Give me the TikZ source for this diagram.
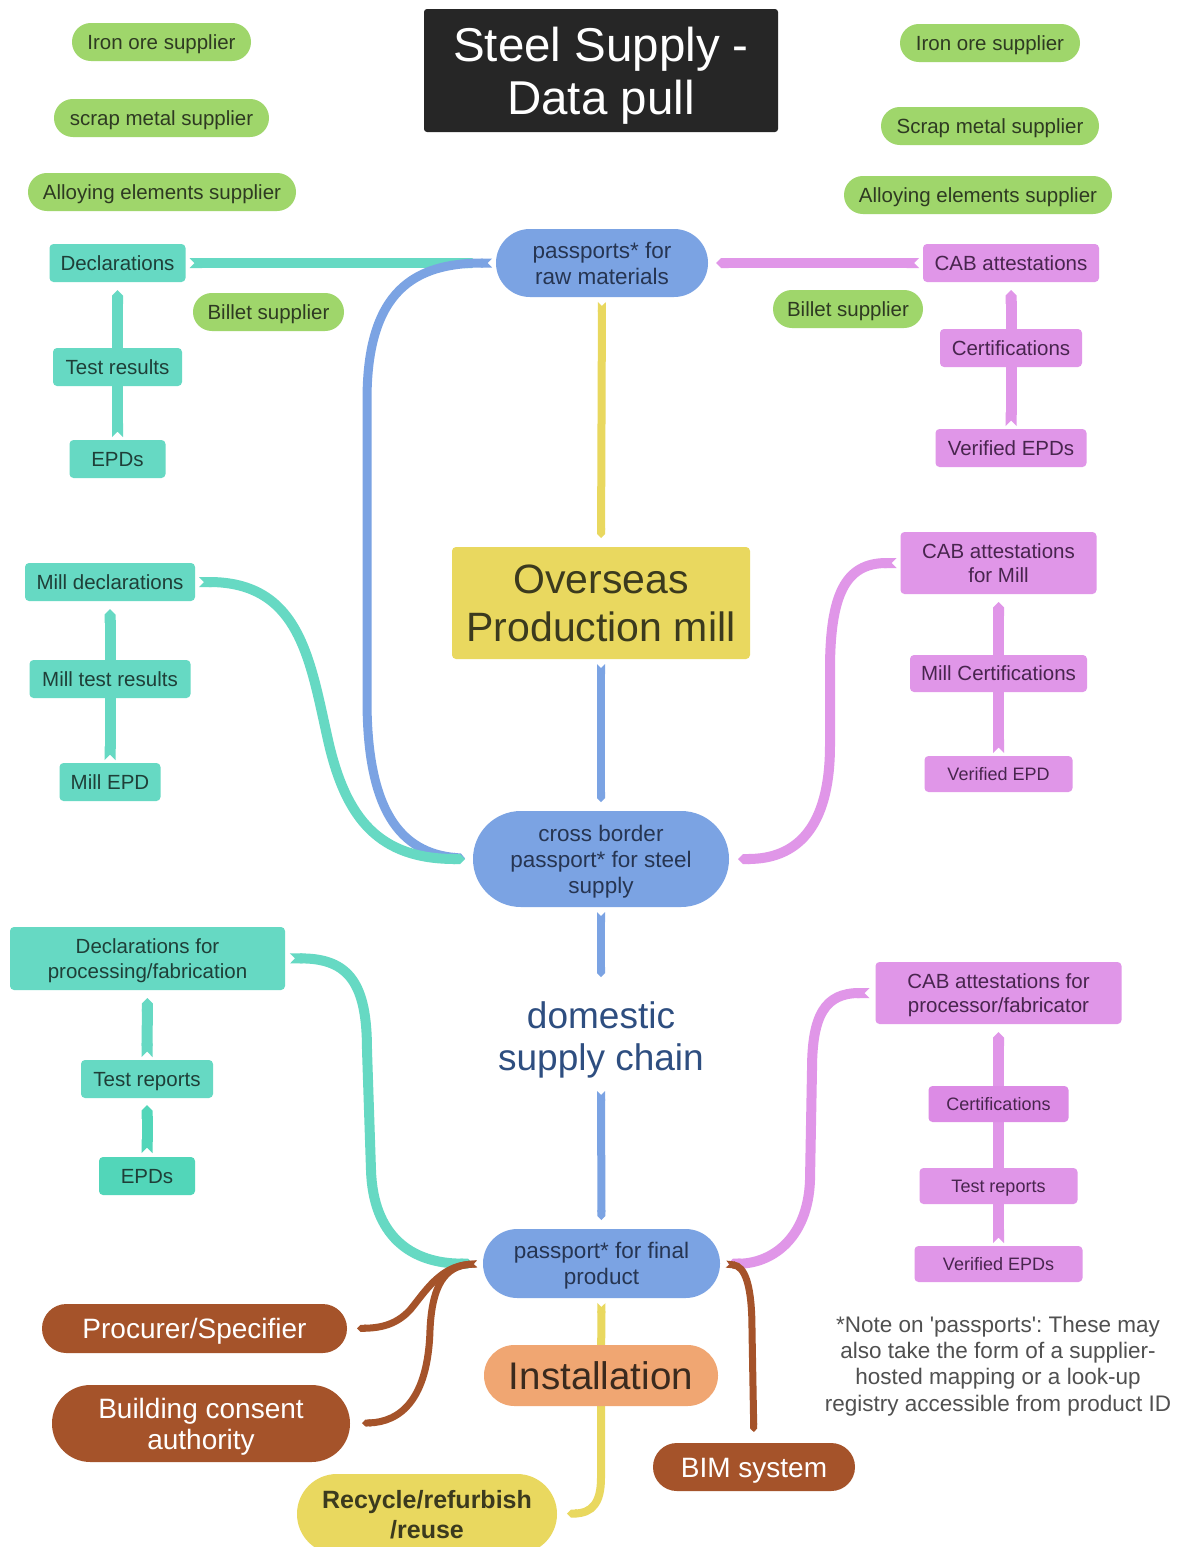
\documentclass[tikz,border=0pt]{standalone}
\usepackage{fontspec}
\setmainfont{Liberation Sans}
\usetikzlibrary{arrows.meta}
\frenchspacing

\definecolor{cgreen}{RGB}{159,214,107}
\definecolor{tgreen}{RGB}{46,58,34}
\definecolor{cteal}{RGB}{102,217,195}
\definecolor{cteal2}{RGB}{82,214,185}
\definecolor{tteal}{RGB}{31,63,56}
\definecolor{cpink}{RGB}{224,150,232}
\definecolor{cpink2}{RGB}{220,139,229}
\definecolor{tpink}{RGB}{72,37,78}
\definecolor{cblue}{RGB}{123,163,227}
\definecolor{tblue}{RGB}{38,53,82}
\definecolor{cyellow}{RGB}{233,216,95}
\definecolor{tyellow}{RGB}{59,58,30}
\definecolor{corange}{RGB}{240,166,114}
\definecolor{torange}{RGB}{58,42,30}
\definecolor{cbrown}{RGB}{165,83,42}
\definecolor{cdark}{RGB}{38,38,38}
\definecolor{cdom}{RGB}{46,78,128}
\definecolor{cnote}{RGB}{80,80,80}

\newcommand\fsz[2]{\fontsize{#1}{#2}\selectfont}
\pgfdeclarelayer{back}
\pgfdeclarelayer{links}
\pgfsetlayers{back,links,main}

\begin{document}
\begin{tikzpicture}[x=1pt, y=-1pt,
  box/.style={rectangle, inner sep=0pt, outer sep=0pt, align=center},
  sz/.style 2 args={minimum width=#1pt, minimum height=#2pt},
  capc/.style={text height=#1pt, text depth=0pt},
  mline/.style={text depth=0pt},
  gpill/.style={box, fill=cgreen, text=tgreen, font=\fsz{20.5}{24}, rounded corners=18.9pt, capc=14.7},
  tbox/.style={box, fill=cteal, text=tteal, font=\fsz{20.5}{24.5}, rounded corners=4pt},
  tone/.style={tbox, capc=14.7},
  pbox/.style={box, fill=cpink, text=tpink, font=\fsz{20.5}{24.5}, rounded corners=4pt},
  pone/.style={pbox, capc=14.7},
  psmall/.style={pbox, font=\fsz{18}{21}, capc=12.9},
  bpill/.style={box, fill=cblue, text=tblue, font=\fsz{22.5}{26}},
  brpill/.style={box, fill=cbrown, text=white, font=\fsz{28}{31}},
  link/.style={{Triangle Cap[reversed]}-{Triangle Cap}, line cap=butt, shorten <=4pt, shorten >=8pt},
  tln/.style={link, draw=cteal, line width=10pt},
  tchain/.style={link, draw=cteal, line width=11pt, shorten <=3pt},
  pln/.style={link, draw=cpink, line width=10pt},
  pchain/.style={link, draw=cpink, line width=11pt, shorten <=3pt},
  bln/.style={link, draw=cblue, line width=9pt},
  bspine/.style={link, draw=cblue, line width=8pt, shorten <=5pt, shorten >=9pt},
  yln/.style={link, draw=cyellow, line width=8pt, shorten <=5pt, shorten >=9pt},
  brln/.style={link, draw=cbrown, line width=7pt, shorten <=6pt}
]
\useasboundingbox (0,0) rectangle (1178,1547);
\begin{pgfonlayer}{back}
  \fill[white] (0,0) rectangle (1178,1547);
\end{pgfonlayer}

% suppliers
\node[gpill, sz={179}{38}] (ironL) at (161.5,42) {Iron ore supplier};
\node[gpill, sz={215}{38}] (scrapL) at (161.5,118) {scrap metal supplier};
\node[gpill, sz={268}{38}] (alloyL) at (162,192) {Alloying elements supplier};
\node[gpill, sz={151}{38}] (billetL) at (268.5,312) {Billet supplier};
\node[gpill, sz={180}{38}] (ironR) at (990,43) {Iron ore supplier};
\node[gpill, sz={218}{38}] (scrapR) at (990,126) {Scrap metal supplier};
\node[gpill, sz={268}{38}] (alloyR) at (978,195) {Alloying elements supplier};
\node[gpill, sz={150}{38}] (billetR) at (848,309) {Billet supplier};

% title
\node[box, mline, sz={354}{123}, fill=cdark, text=white, font=\fsz{47.5}{53}, rounded corners=3pt] (title) at (601,70.5) {Steel Supply -\\Data pull};

% central spine
\node[bpill, mline, sz={212}{68}, rounded corners=33.9pt] (praw) at (602,263) {passports* for\\raw materials};
\node[box, mline, sz={298}{112}, fill=cyellow, text=tyellow, font=\fsz{41}{48}, rounded corners=4pt] (mill) at (601,603) {Overseas\\Production mill};
\node[bpill, mline, sz={256}{96}, rounded corners=47.9pt] (cross) at (601,859) {cross border\\passport* for steel\\supply};
\node[box, mline, sz={260}{100}, text=cdom, font=\fsz{37}{42}] (dom) at (601,1036) {domestic\\supply chain};
\node[bpill, mline, sz={237}{69}, rounded corners=34.4pt] (final) at (601.5,1263.5) {passport* for final\\product};
\node[box, sz={234}{61}, fill=corange, text=torange, font=\fsz{38.5}{44}, rounded corners=30.4pt, capc=27.6] (inst) at (601,1375.5) {Installation};
\node[box, mline, sz={260}{80}, fill=cyellow, text=tyellow, font=\bfseries\fsz{25}{30}, rounded corners=39.9pt] (recyc) at (427,1514) {Recycle/refurbish\\/reuse};

% users of the final passport
\node[brpill, sz={305}{49}, rounded corners=24.4pt, capc=20] (proc) at (194.5,1328.5) {Procurer/Specifier};
\node[brpill, mline, sz={298}{77}, rounded corners=38.4pt] (bca) at (201,1423.5) {Building consent\\authority};
\node[brpill, sz={202}{48}, rounded corners=23.9pt, capc=20] (bim) at (754,1467) {BIM system};

% supplier data (left)
\node[tone, sz={136}{38}] (decl1) at (117.5,263) {Declarations};
\node[tone, sz={129}{38}] (tr1) at (117.5,367) {Test results};
\node[tone, sz={96}{38}] (epd1) at (117.5,459) {EPDs};
\node[tone, sz={170}{38}] (mdecl) at (110,582) {Mill declarations};
\node[tone, sz={161}{38}] (mtr) at (110,679) {Mill test results};
\node[tone, sz={101}{38}] (mepd) at (110,782) {Mill EPD};
\node[tbox, mline, sz={275}{63}] (dproc) at (147.5,958.5) {Declarations for\\processing/fabrication};
\node[tone, sz={132}{38}] (tr2) at (147,1079) {Test reports};
\node[tone, sz={96}{38}, fill=cteal2] (epd2) at (147,1176) {EPDs};

% conformity data (right)
\node[pone, sz={176}{38}] (cab1) at (1011,263) {CAB attestations};
\node[pone, sz={142}{38}] (cert1) at (1011,348) {Certifications};
\node[pone, sz={151}{38}] (vepd1) at (1011,448) {Verified EPDs};
\node[pbox, mline, sz={196}{62}] (cabm) at (998.5,563) {CAB attestations\\for Mill};
\node[pone, sz={177}{37}] (mcert) at (998.5,673.5) {Mill Certifications};
\node[psmall, sz={148}{36}] (vepdm) at (998.5,774) {Verified EPD};
\node[pbox, mline, sz={246}{62}] (cabp) at (998.5,993) {CAB attestations for\\processor/fabricator};
\node[psmall, sz={140}{36}, fill=cpink2] (cert2) at (998.5,1104) {Certifications};
\node[psmall, sz={158}{36}] (tr3) at (998.5,1186) {Test reports};
\node[psmall, sz={168}{36}] (vepd2) at (998.5,1264) {Verified EPDs};

% footnote
\node[box, text=cnote, font=\fsz{22.5}{26.3}] (note) at (998,1366) {*Note on \textquotesingle passports\textquotesingle: These may\\also take the form of a supplier-\\hosted mapping or a look-up\\registry accessible from product ID};

\begin{pgfonlayer}{links}
  % into the raw-material passport
  \draw[tln, shorten >=19pt] (decl1.east) -- (praw.west);
  \draw[pln] (cab1.west) -- (praw.east);
  \draw[tchain, shorten >=0pt] (epd1.north) -- (tr1.center);
  \draw[tchain, shorten <=0pt] (tr1.center) -- (decl1.south);
  \draw[pchain, shorten >=0pt] (vepd1.north) -- (cert1.center);
  \draw[pchain, shorten <=0pt] (cert1.center) -- (cab1.south);

  % spine
  \draw[yln] (praw.south) -- (mill.north);
  \draw[bspine] (mill.south) -- (cross.north);
  \draw[bspine] (cross.south) -- (dom.north);
  \draw[bspine] (dom.south) -- (final.north);
  \draw[yln, shorten >=0pt] (final.south) -- (inst.center);
  \draw[yln, shorten <=0pt, shorten >=10pt] (inst.center) -- (601,1478) .. controls (601,1503) and (592,1513) .. (recyc.east);

  % into the cross border passport
  \draw[bln] (praw.west) .. controls (415,263) and (367,290) .. (367,400) -- (367,700) .. controls (367,810) and (400,853) .. (cross.west);
  \draw[tln] (mdecl.east) .. controls (300,582) and (310,660) .. (328,740) .. controls (346,820) and (380,859) .. (cross.west);
  \draw[tchain, shorten >=0pt] (mepd.north) -- (mtr.center);
  \draw[tchain, shorten <=0pt] (mtr.center) -- (mdecl.south);
  \draw[pln, shorten >=9pt] (cabm.west) .. controls (845,563) and (830,595) .. (830,670) -- (830,745) .. controls (830,830) and (795,859) .. (cross.east);
  \draw[pchain, shorten >=0pt] (vepdm.north) -- (mcert.center);
  \draw[pchain, shorten <=0pt] (mcert.center) -- (cabm.south);

  % into the final product passport
  \draw[tln, shorten <=5pt, shorten >=10pt] (dproc.east) .. controls (350,958) and (367,985) .. (367,1050) -- (371,1170) .. controls (373,1235) and (410,1264) .. (final.west);
  \draw[tchain] (tr2.north) -- (dproc.south);
  \draw[tchain, draw=cteal2, shorten <=4pt, shorten >=7pt] (epd2.north) -- (tr2.south);
  \draw[pln, shorten <=6pt] (cabp.west) .. controls (825,993) and (812,1015) .. (812,1070) -- (810,1180) .. controls (808,1240) and (770,1264) .. (final.east);
  \draw[pchain, shorten >=0pt] (vepd2.north) -- (tr3.center);
  \draw[pchain, shorten <=0pt, shorten >=0pt] (tr3.center) -- (cert2.center);
  \draw[pchain, shorten <=0pt] (cert2.center) -- (cabp.south);

  % out to the users
  \draw[brln, shorten >=10pt] (final.west) .. controls (440,1266) and (425,1292) .. (410,1310) .. controls (396,1325) and (380,1328) .. (proc.east);
  \draw[brln, shorten >=12pt] (final.west) .. controls (445,1266) and (432,1285) .. (430,1330) .. controls (428,1400) and (400,1422) .. (bca.east);
  \draw[brln, shorten >=11pt] (final.east) .. controls (745,1266) and (752,1285) .. (752,1330) -- (bim.north);
\end{pgfonlayer}
\end{tikzpicture}
\end{document}
